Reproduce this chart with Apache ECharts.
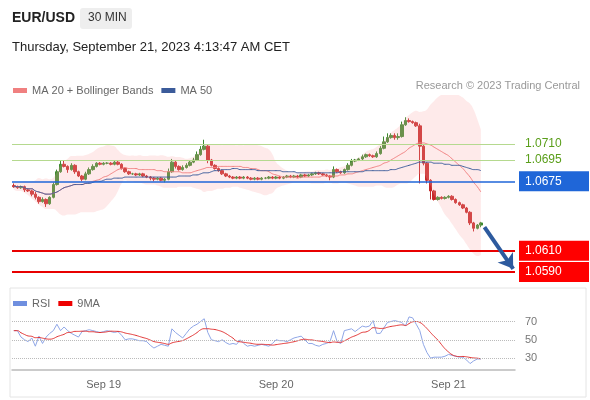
<!DOCTYPE html>
<html><head><meta charset="utf-8">
<script src="https://cdn.jsdelivr.net/npm/echarts@6/dist/echarts.min.js"></script>
<style>body{margin:0;background:#fff}#c{width:590px;height:400px}</style>
</head><body><div id="c"></div>
<script>
// closes in units of 0.0001 above 1.0600
const closes=[70,69,70,67,66,63,60,56,58,54,60,72,84,91,89,86,90,84,80,77,82,86,89,92,91,92,92,91,93,91,87,84,82,82,81,82,80,79,78,77,78,76,77,84,93,89,86,88,90,93,95,100,105,108,95,90,87,85,82,80,79,78,79,78,79,78,77,78,77,78,78,79,78,79,78,79,80,79,80,79,81,80,81,82,83,82,81,80,79,86,84,83,86,90,94,95,96,98,100,99,98,101,106,112,116,118,116,117,128,132,131,130,127,108,92,76,66,58,60,59,60,61,58,55,53,50,46,36,31,34,36];
const wickUp=[2,1,1,1,1,1,2,1,2,1,1,2,2,3,3,1,2,1,1,1,2,2,2,1,1,1,1,1,1,1,1,1,1,1,1,1,1,1,1,1,1,1,1,3,3,1,1,2,2,2,2,3,3,6,1,1,1,1,1,1,1,1,1,1,1,1,1,1,1,1,1,1,1,1,1,1,1,1,1,1,1,1,1,1,1,1,1,1,1,3,1,1,1,2,2,1,1,2,1,1,1,2,2,5,4,2,2,3,3,3,2,1,1,2,1,1,1,1,1,1,1,1,1,1,1,1,1,1,1,1,1];
const wickDn=[1,1,1,2,1,2,2,2,1,3,1,1,1,1,1,3,1,2,1,2,1,1,1,1,1,1,1,1,1,1,1,1,1,1,1,1,1,1,2,2,1,1,2,1,1,2,1,1,1,1,1,1,1,1,3,1,1,1,1,1,1,1,1,1,1,1,1,1,1,1,1,1,1,1,1,1,1,1,1,1,1,1,1,1,1,1,1,1,3,1,1,1,1,1,1,1,1,1,1,1,1,1,1,1,1,1,2,2,1,1,1,1,1,35,2,3,8,1,1,1,1,1,1,1,1,1,1,2,3,1,2];
const rsi=[60,60,53,50,48,52,43,54,46,53,57,60,67,60,64,60,57,55,53,59,60,61,60,59,58,59,60,59,58,59,55,50,51,51,50,49,49,48,44,41,43,45,44,43,62,58,55,52,57,62,65,67,70,73,58,50,49,48,50,47,45,46,45,50,46,43,44,43,44,45,44,43,46,50,49,49,48,50,52,53,54,50,46,46,44,43,45,46,48,60,48,46,60,61,62,59,62,65,64,65,71,57,57,63,69,70,71,70,69,65,75,74,67,60,45,36,30,31,31,31,32,34,33,32,31,31,28,24,27,29,29];
const levels={r1:1.0710,r2:1.0695,pivot:1.0675,last:1.0636,s1:1.0610,s2:1.0590};
const dayTicks=[25,73,121];
const dayLabels=['Sep 19','Sep 20','Sep 21'];
const NSLOT=140;

const cats=[];for(let i=0;i<NSLOT;i++)cats.push(String(i));
const px=v=>+(1.06+v/10000).toFixed(4);
const ohlc=closes.map((c,i)=>{const o=i?closes[i-1]:c+1;return [px(o),px(c),px(Math.min(o,c)-wickDn[i]),px(Math.max(o,c)+wickUp[i])];});
function ma(arr,n,i){const s=arr.slice(Math.max(0,i-n+1),i+1);return s.reduce((a,b)=>a+b,0)/s.length;}
const ma20=[],ma50=[],lo=[],bw=[];
closes.forEach((c,i)=>{const m=ma(closes,20,i);const s=closes.slice(Math.max(0,i-19),i+1);const sd=Math.sqrt(s.reduce((a,b)=>a+(b-m)**2,0)/s.length);
ma20.push(px(m));ma50.push(px(ma(closes,50,i)));const l=m-2*sd-3,u=m+2*sd+3;lo.push(px(l));bw.push((u-l)/10000);});
const rsiMa=rsi.map((v,i)=>+ma(rsi,9,i).toFixed(1));
const lastI=closes.length-1;

const lab=(bg,fg)=>({show:true,position:'end',distance:4,formatter:p=>(+p.value).toFixed(4),backgroundColor:bg,color:fg,fontSize:12,padding:[4,6],width:58,align:'left'});
const glab={show:true,position:'end',distance:10,formatter:p=>(+p.value).toFixed(4),color:'#5a9e1a',fontSize:12};
const ch=echarts.init(document.getElementById('c'));
ch.setOption({
animation:false,
graphic:[
 {type:'text',left:12,top:11,style:{text:'EUR/USD',font:'bold 14px Arial',fill:'#222'}},
 {type:'rect',shape:{x:80,y:8,width:52,height:21,r:3},style:{fill:'#eee'}},
 {type:'text',left:88,top:12,style:{text:'30 MIN',font:'12px Arial',fill:'#333'}},
 {type:'text',left:12,top:41,style:{text:'Thursday, September 21, 2023 4:13:47 AM CET',font:'13px Arial',fill:'#222'}},
 {type:'text',right:10,top:80,style:{text:'Research © 2023 Trading Central',font:'11px Arial',fill:'#999'}},
 {type:'rect',shape:{x:10,y:288,width:576,height:109},style:{fill:'none',stroke:'#e4e4e4'}}
],
legend:[{left:8,top:80,icon:'rect',itemWidth:14,itemHeight:5,textStyle:{fontSize:11,color:'#666'},data:[{name:'MA 20 + Bollinger Bands',itemStyle:{color:'#f08080'}},{name:'MA 50',itemStyle:{color:'#3b5b9a'}}]},
 {left:8,top:293,icon:'rect',itemWidth:14,itemHeight:5,textStyle:{fontSize:11,color:'#666'},data:[{name:'RSI',itemStyle:{color:'#6f8fdf'}},{name:'9MA',itemStyle:{color:'#e00'}}]}],
grid:[{left:12,width:503,top:96,height:192},{left:12,width:503,top:316,height:54}],
xAxis:[{type:'category',data:cats,gridIndex:0,show:false},
 {type:'category',data:cats,gridIndex:1,axisLine:{lineStyle:{color:'#bbb',width:1.5}},axisTick:{show:false},
  axisLabel:{interval:i=>dayTicks.includes(i),formatter:(v)=>dayLabels[dayTicks.indexOf(+v)]||'',color:'#666',fontSize:11,margin:9}}],
yAxis:[{gridIndex:0,min:1.0575,max:1.0755,show:false,splitLine:{show:false}},
 {gridIndex:1,min:17,max:76,position:'right',axisLine:{show:false},axisTick:{show:false},
  axisLabel:{color:'#777',fontSize:11,margin:10,customValues:[30,50,70]},splitLine:{show:false}}],
series:[
 {type:'line',name:'lo',data:lo,stack:'bb',symbol:'none',smooth:true,lineStyle:{opacity:0},silent:true},
 {type:'line',name:'bw',data:bw,stack:'bb',symbol:'none',lineStyle:{opacity:0},areaStyle:{color:'rgba(250,170,170,0.35)'},smooth:true,silent:true},
 {type:'line',name:'MA 20 + Bollinger Bands',data:ma20,symbol:'none',smooth:true,lineStyle:{color:'#f08080',width:1}},
 {type:'line',name:'MA 50',data:ma50,symbol:'none',smooth:true,lineStyle:{color:'#3b5b9a',width:1},
  markLine:{symbol:'none',silent:true,precision:4,label:{show:false},lineStyle:{color:'#888',type:'dotted',width:1},data:[[{coord:[lastI,ma50[lastI]]},{coord:[139.5,ma50[lastI]]}]]}},
 {type:'candlestick',data:ohlc,barWidth:3,itemStyle:{color:'#3d8a2f',color0:'#c62828',borderColor:'#3d8a2f',borderColor0:'#c62828'},
  markLine:{symbol:'none',silent:true,precision:4,data:[
   {yAxis:levels.r1,lineStyle:{color:'#b5d98f',width:1,type:'solid'},label:glab},
   {yAxis:levels.r2,lineStyle:{color:'#b5d98f',width:1,type:'solid'},label:glab},
   {yAxis:levels.pivot,lineStyle:{color:'#1f66d8',width:1.5,type:'solid'},label:lab('#1f66d8','#fff')},
   [{coord:[lastI,levels.last],lineStyle:{color:'#555',width:1,type:'dotted'},label:lab('#333','#fff')},{coord:[139.5,levels.last]}],
   {yAxis:levels.s1,lineStyle:{color:'#e80000',width:2,type:'solid'},label:lab('#f00','#fff')},
   {yAxis:levels.s2,lineStyle:{color:'#e80000',width:2,type:'solid'},label:lab('#f00','#fff')}
  ]}},
 {type:'line',data:[],markLine:{silent:true,precision:4,symbol:['none','arrow'],symbolSize:14,label:{show:false},lineStyle:{color:'#2d5a9e',width:4,type:'solid'},
  data:[[{coord:[131,1.0632]},{coord:[139,1.0593]}]]}},
 {type:'line',name:'RSI',xAxisIndex:1,yAxisIndex:1,data:rsi,symbol:'none',lineStyle:{color:'#8fa6e6',width:1},
  markLine:{symbol:'none',silent:true,label:{show:false},lineStyle:{color:'#bbb',type:'dotted',width:1},data:[{yAxis:30},{yAxis:50},{yAxis:70}]}},
 {type:'line',name:'9MA',xAxisIndex:1,yAxisIndex:1,data:rsiMa,symbol:'none',smooth:true,lineStyle:{color:'#e03030',width:1}}
]});
</script></body></html>
